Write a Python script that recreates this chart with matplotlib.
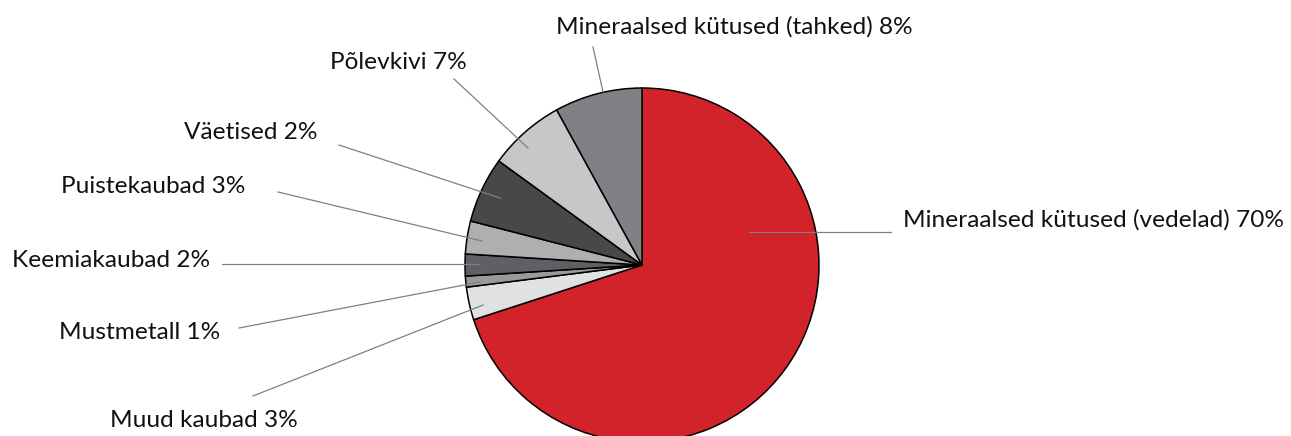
import matplotlib
matplotlib.use("Agg")
import matplotlib.pyplot as plt

# shares (clockwise from 12 o'clock)
categories = [
    "Mineraalsed kütused (vedelad)",
    "Muud kaubad",
    "Mustmetall",
    "Keemiakaubad",
    "Puistekaubad",
    "Väetised",
    "Põlevkivi",
    "Mineraalsed kütused (tahked)",
]
values = [70, 3, 1, 2, 3, 6, 7, 8]
# percentages as printed in the labels
label_pct = [70, 3, 1, 2, 3, 2, 7, 8]

colors = ["#D2232A", "#E0E1E2", "#999A9C", "#5F6063",
          "#ADAFB1", "#48484A", "#C6C7C9", "#808184"]

W, H = 1291, 436

# label anchors (pixel coords, y down) and leader lines
label_pos = [(903, 227, "left"), (204, 427, "center"), (140, 339, "center"),
             (111, 267, "center"), (153, 193, "center"), (251, 139, "center"),
             (398, 69, "center"), (734, 34, "center")]
leaders = [((749, 232), (891, 232)), ((483, 305), (253, 396)),
           ((480, 282), (239, 328)), ((479, 264), (222, 264)),
           ((482, 241), (278, 192)), ((500, 198), (339, 145)),
           ((528, 148), (454, 79)), ((603, 92), (593, 47))]

plt.rcParams["font.family"] = ["Lato", "DejaVu Sans"]

fig = plt.figure(figsize=(W / 100, H / 100), dpi=100)
ax = fig.add_axes([0, 0, 1, 1])

cx, cy, r = 642, H - 265, 177
ax.pie(values, colors=colors, startangle=90, counterclock=False,
       center=(cx, cy), radius=r, frame=True,
       wedgeprops=dict(edgecolor="black", linewidth=1.1))
ax.set_xlim(0, W)
ax.set_ylim(0, H)
ax.set_aspect("equal")
ax.axis("off")

for (p0, p1) in leaders:
    ax.plot([p0[0], p1[0]], [H - p0[1], H - p1[1]], color="#808080", lw=0.9)

for cat, pct, (x, y, ha) in zip(categories, label_pct, label_pos):
    ax.text(x, H - y, f"{cat} {pct}%", ha=ha, va="baseline",
            fontsize=17.6, color="#111111")

fig.savefig("out.png", dpi=100)
